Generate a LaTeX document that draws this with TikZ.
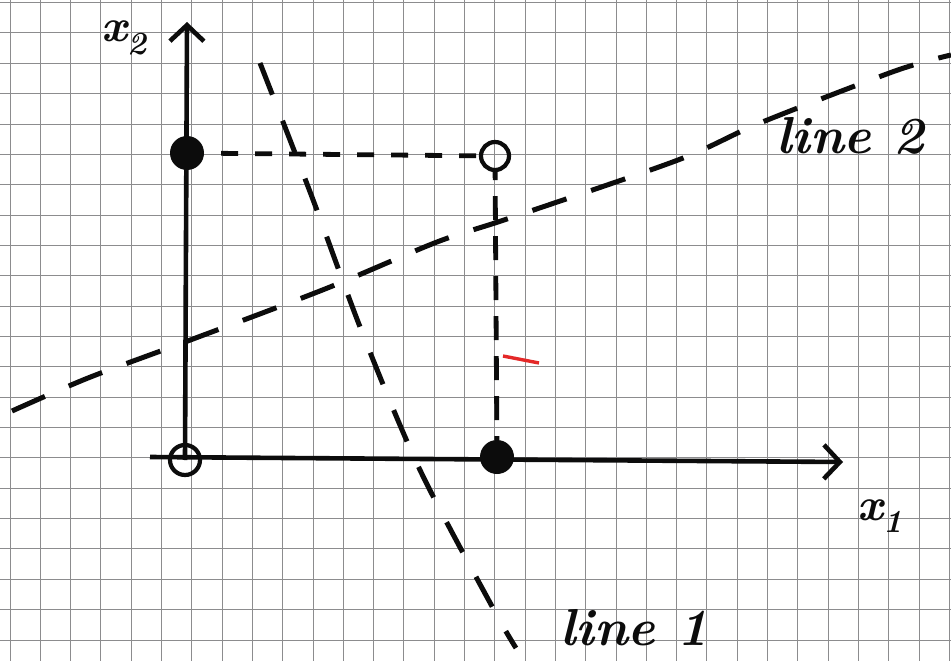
\documentclass[tikz,border=0pt]{standalone}
\usetikzlibrary{
    arrows.meta,
    positioning
}
\definecolor{ink}{RGB}{12,12,12}
\definecolor{gridline}{RGB}{140,140,142}
\definecolor{smudge}{RGB}{228,40,40}
\tikzset{
    line cap=round,
    line join=round,
    paper/.style={
        draw=gridline,
        line width=1pt
    },
    axis/.style={
        draw=ink,
        line width=4.6pt,
        -{Straight Barb[length=16pt, width=34pt]}
    },
    fulldot/.style={
        circle,
        fill=ink,
        inner sep=0pt,
        minimum size=34pt
    },
    opendot/.style={
        circle,
        draw=ink,
        line width=4.2pt,
        inner sep=0pt,
        minimum size=30pt
    },
    guide/.style={
        draw=ink,
        line width=4.8pt,
        dash pattern=on 17pt off 17pt,
        dash phase=17pt
    },
    sketchline/.style={
        draw=ink,
        line width=5pt
    },
    hand/.style={
        font=\fontsize{52}{58}\selectfont\bfseries\itshape,
        text=ink,
        inner sep=0pt
    },
    axlabel/.style={
        hand,
        font=\fontsize{46}{50}\selectfont\bfseries\itshape
    }
}

\begin{document}
\begin{tikzpicture}[x=1pt, y=-1pt]

\useasboundingbox[fill=white] (0,0) rectangle (951,661);

% Squared paper
\foreach \k in {0,...,31}
    \draw[paper] ({10+30.3*\k},0) -- ({10+30.3*\k},661);
\foreach \k in {0,...,21}
    \draw[paper] (0,{2.65+30.35*\k}) -- (951,{2.65+30.35*\k});

% === Axes ===
\coordinate (O) at (185,460);
\coordinate (xtail) at (150,457);
\coordinate (xtip) at (843,462);
\coordinate (ytip) at (187,22);

\draw[axis] (xtail) -- (xtip);
\draw[axis] (O) -- (ytip);

\node[axlabel] (ax1) at (880,516) {x\textsubscript{1}};
\node[axlabel] (ax2) at (124,38) {x\textsubscript{2}};

% Points on the axes and the corner
\node[opendot] (origin) at (O) {};
\node[fulldot] (onx2) at (187,153) {};
\node[fulldot] (onx1) at (497,457) {};
\node[opendot, minimum size=28pt] (corner) at (495,156) {};

\draw[guide] (onx2) -- (corner);
\draw[guide, dash pattern=on 24pt off 16pt, dash phase=16pt] (corner) -- (onx1);

% === Line 1 ===
\draw[sketchline, dash pattern=on 34pt off 28pt]
    plot[smooth] coordinates {(260,63) (312,197) (362,332) (420,470) (494,610) (516,648)};
\node[hand] (lab1) at (634,628) {line 1};

% === Line 2 ===
\draw[sketchline, dash pattern=on 36pt off 26pt]
    plot[smooth] coordinates {(12,411) (88,378) (185,342) (325,289) (437,242)
        (510,218) (678,160) (760,123) (895,71) (951,55)};
\node[hand] (lab2) at (850,136) {line 2};

% stray red mark
\draw[smudge, line width=3.4pt] (503,356) -- (539,363);

\end{tikzpicture}
\end{document}
